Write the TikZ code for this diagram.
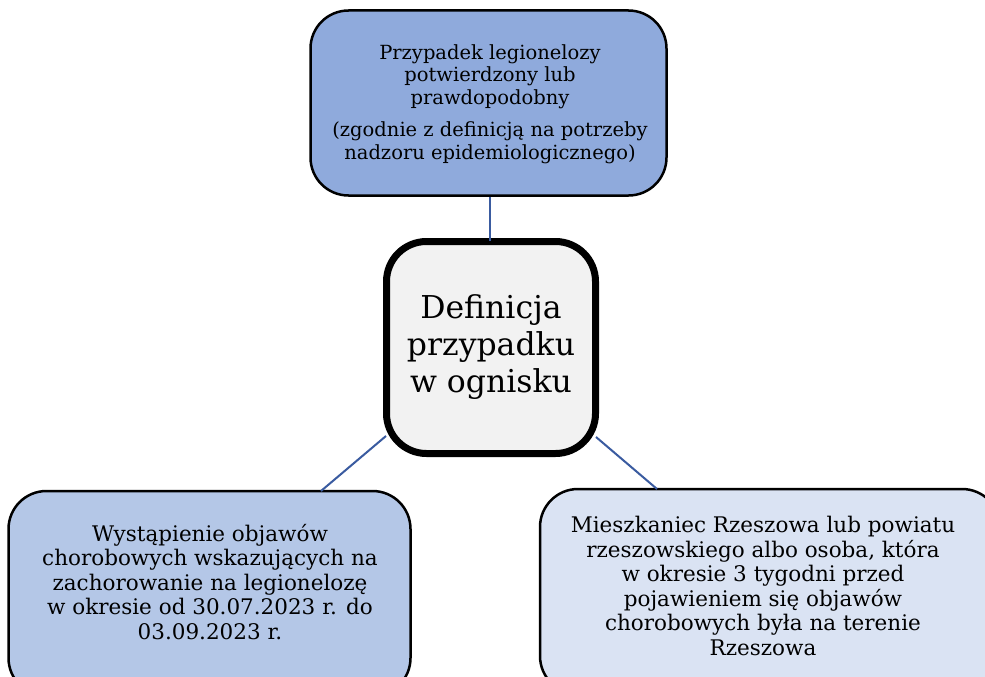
\documentclass[tikz,border=0pt]{standalone}
\usepackage{fontspec}
\setmainfont{DejaVu Serif}
\definecolor{topfill}{HTML}{8FAADC}
\definecolor{midfill}{HTML}{F2F2F2}
\definecolor{leftfill}{HTML}{B4C7E7}
\definecolor{rightfill}{HTML}{DAE3F3}
\definecolor{linkblue}{HTML}{3A5BA0}
\tikzset{
  box/.style={draw=black, line width=2.5pt, rounded corners=38pt, inner sep=0pt},
  centerbox/.style={draw=black, line width=7pt, rounded corners=40pt, inner sep=0pt, fill=midfill},
  toptxt/.style={align=center, font=\fontsize{19.5}{22.5}\selectfont, inner sep=0pt},
  txt/.style={align=center, font=\fontsize{21.5}{24.5}\selectfont, inner sep=0pt},
  bigtxt/.style={align=center, font=\fontsize{31.5}{37}\selectfont, inner sep=0pt},
  link/.style={draw=linkblue, line width=2pt}
}
\begin{document}
\begin{tikzpicture}[x=1pt,y=-1pt]
\useasboundingbox (0,0) rectangle (985,677);
\clip (0,0) rectangle (985,677);
\fill[white] (0,0) rectangle (985,677);
% boxes
\node[box, fill=topfill, minimum width=356pt, minimum height=185pt] (top) at (488.5,103) {};
\node[centerbox, minimum width=209pt, minimum height=212pt] (mid) at (491,347.5) {};
\node[box, fill=leftfill, minimum width=402pt, minimum height=205pt] (left) at (209.5,593.5) {};
\node[box, fill=rightfill, minimum width=460pt, minimum height=205pt] (right) at (770,591.5) {};
% connectors
\coordinate (midtop) at (490,241);
\coordinate (midleft) at (386,436);
\coordinate (midright) at (596,437);
\coordinate (lefttop) at (321,491);
\coordinate (righttop) at (657,489);
\draw[link] (top.south -| midtop) -- (midtop);
\draw[link] (midleft) -- (lefttop);
\draw[link] (midright) -- (righttop);
% texts
\node[toptxt] (toptext) at (490,104) {Przypadek legionelozy\\potwierdzony lub\\prawdopodobny\\[10pt](zgodnie z definicją na potrzeby\\nadzoru epidemiologicznego)};
\node[bigtxt] (midtext) at (491,347) {Definicja\\przypadku\\w ognisku};
\node[txt] (lefttext) at (210,582) {Wystąpienie objawów\\chorobowych wskazujących na\\zachorowanie na legionelozę\\w okresie od 30.07.2023 r. do\\03.09.2023 r.};
\node[txt] (righttext) at (763,586) {Mieszkaniec Rzeszowa lub powiatu\\rzeszowskiego albo osoba, która\\w okresie 3 tygodni przed\\pojawieniem się objawów\\chorobowych była na terenie\\Rzeszowa};
\end{tikzpicture}
\end{document}
